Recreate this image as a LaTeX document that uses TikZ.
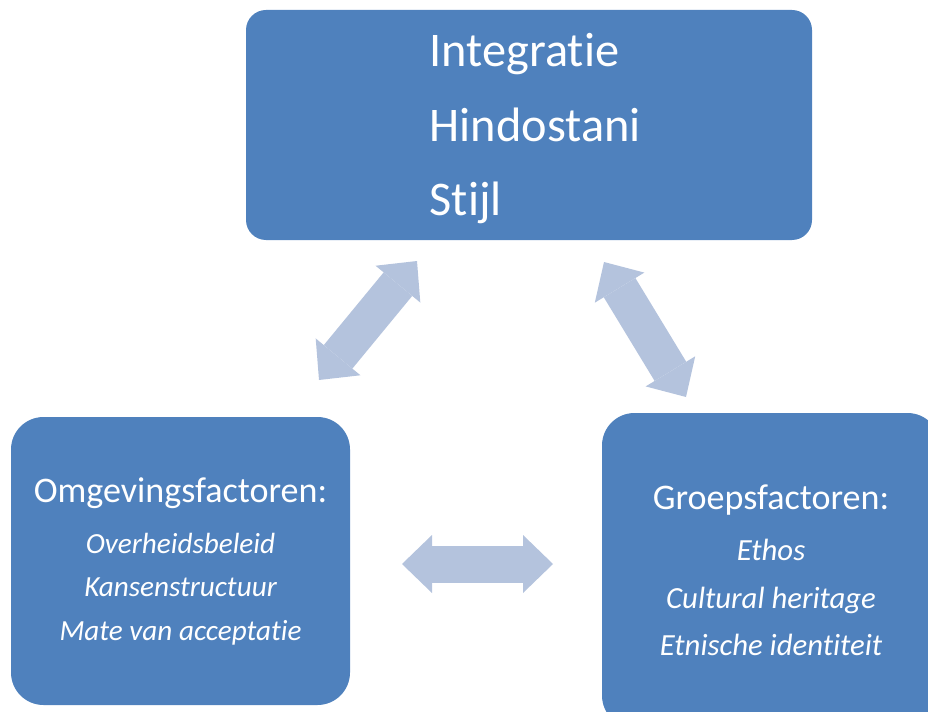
\documentclass[tikz,border=0pt]{standalone}
\usepackage{fontspec}
\setmainfont{Carlito}[Ligatures=NoCommon]
\usepackage{xcolor}
\usetikzlibrary{positioning}
\usetikzlibrary{arrows.meta}

\definecolor{vakblauw}{RGB}{79,129,189}
\definecolor{pijlblauw}{RGB}{180,195,221}

\tikzset{
  vak/.style={fill=vakblauw, text=white, inner sep=0pt},
  pijl/.style={pijlblauw, line width=0.74cm, {Triangle[length=0.6cm, width=1.16cm, line width=0pt]}-{Triangle[length=0.6cm, width=1.16cm, line width=0pt]}}
}

\begin{document}
\begin{tikzpicture}

\clip (0,0) rectangle (18.56,14.22);

% boxes
\node[vak, rounded corners=0.4cm, minimum width=11.32cm, minimum height=4.6cm,
      align=left, font=\fontsize{27.5pt}{42.5pt}\selectfont] (stijl) at (10.58,11.72)
{\rule{0pt}{23pt}\hspace*{0.25cm}Integratie\\\hspace*{0.25cm}Hindostani\\\hspace*{0.25cm}Stijl};

\node[vak, rounded corners=0.65cm, minimum width=6.78cm, minimum height=5.76cm,
      align=center, font=\fontsize{16.6pt}{24.5pt}\selectfont\itshape] (omgeving) at (3.61,3.0)
{{\upshape\fontsize{20.5pt}{24.5pt}\selectfont Omgevingsfactoren:}\\[5pt]
Overheidsbeleid\\Kansenstructuur\\Mate van acceptatie};

\node[vak, rounded corners=0.65cm, minimum width=6.76cm, minimum height=6.3cm,
      align=center, font=\fontsize{17.5pt}{27pt}\selectfont\itshape] (groep) at (15.42,2.81)
{{\upshape\fontsize{20.5pt}{27pt}\selectfont Groepsfactoren:}\\[2pt]
Ethos\\Cultural heritage\\Etnische identiteit};

% arrows
\coordinate (l1) at (8.34,9.0);
\coordinate (l2) at (6.38,6.62);
\coordinate (r1) at (12.08,8.98);
\coordinate (r2) at (13.72,6.28);
\coordinate (m1) at (8.04,2.94);
\coordinate (m2) at (11.06,2.94);

\draw[pijl] (l1) -- (l2);
\draw[pijl] (r1) -- (r2);
\draw[pijl] (m1) -- (m2);

\end{tikzpicture}
\end{document}
